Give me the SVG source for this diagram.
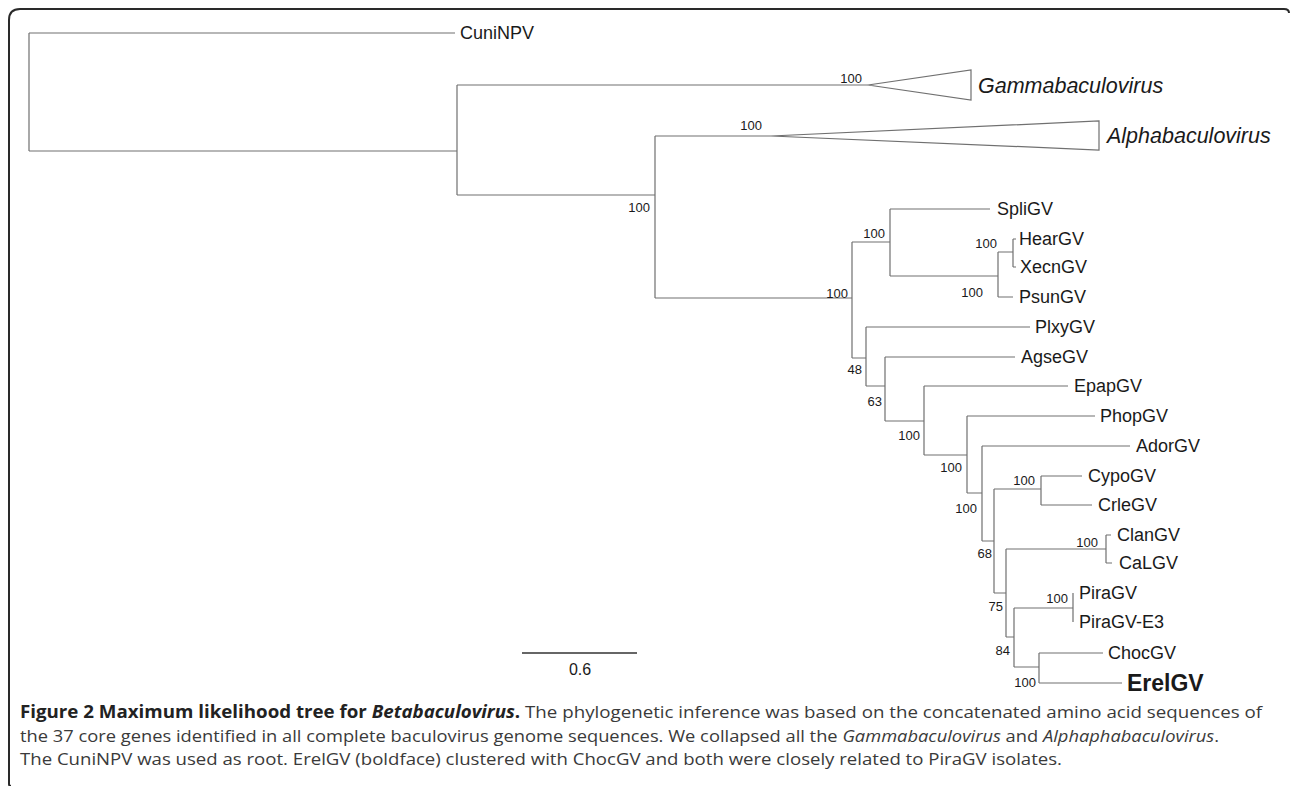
<svg xmlns="http://www.w3.org/2000/svg" width="1290" height="786" viewBox="0 0 1290 786">
<style>
.br{stroke:#707070;stroke-width:1.2;fill:none}
.tri{stroke:#707070;stroke-width:1.2;fill:#fff}
.tip{font-family:"Liberation Sans",Arial,sans-serif;font-size:18px;fill:#1a1a1a}
.clade{font-family:"Liberation Sans",Arial,sans-serif;font-size:21.5px;font-style:italic;fill:#1a1a1a}
.sup{font-family:"Liberation Sans",Arial,sans-serif;font-size:13px;fill:#1a1a1a}
.cap{font-family:"Open Sans","Liberation Sans",sans-serif;font-size:17px;fill:#3a3a3a}
</style>
<rect width="1290" height="786" fill="#fff"/>
<path d="M9 784 Q9 786 11 786 M9 784 V20 Q9 9 20 9 H1284 Q1289 9 1289 13" fill="none" stroke="#2a2a2a" stroke-width="2"/>
<g id="connectors">
<path class="br" d="M29 33 V151 M29 33 H455 M29 151 H457
M457 85 V195 M457 85 H868 M457 195 H655
M655 136 V298 M655 136 H771 M655 298 H852
M852 242 V358 M852 242 H890 M852 358 H866
M890 209 V276 M890 209 H990 M890 276 H998
M998 252 V297 M998 252 H1013 M998 297 H1013
M1013 239 V267 M1013 239 H1016 M1013 267 H1016
M866 327 V386 M866 327 H1030 M866 386 H885
M885 357 V421 M885 357 H1015 M885 421 H924
M924 386 V455 M924 386 H1068 M924 455 H967
M967 416 V493 M967 416 H1095 M967 493 H982
M982 446 V541 M982 446 H1130 M982 541 H994
M994 489 V593 M994 489 H1041 M994 593 H1006
M1041 476 V505 M1041 476 H1082 M1041 505 H1092
M1006 549 V637 M1006 549 H1106 M1006 637 H1014
M1106 535 V563 M1106 535 H1111 M1106 563 H1112
M1014 608 V667 M1014 608 H1073 M1014 667 H1039
M1073 593 V622
M1039 653 V683 M1039 653 H1103 M1039 683 H1122"/>
<polygon class="tri" points="868,85 971,70 971,100"/>
<polygon class="tri" points="771,136 1099,121 1099,150"/>
<path d="M522 653 H637" stroke="#333" stroke-width="1.5"/>
</g>
<g id="tips">
<text class="tip" x="460" y="39">CuniNPV</text>
<text class="clade" x="978" y="93">Gammabaculovirus</text>
<text class="clade" x="1107" y="143">Alphabaculovirus</text>
<text class="tip" x="997" y="215">SpliGV</text>
<text class="tip" x="1019" y="245">HearGV</text>
<text class="tip" x="1020" y="273">XecnGV</text>
<text class="tip" x="1019" y="303">PsunGV</text>
<text class="tip" x="1035" y="333">PlxyGV</text>
<text class="tip" x="1021" y="363">AgseGV</text>
<text class="tip" x="1074" y="392">EpapGV</text>
<text class="tip" x="1100" y="422">PhopGV</text>
<text class="tip" x="1136" y="452">AdorGV</text>
<text class="tip" x="1088" y="482">CypoGV</text>
<text class="tip" x="1098" y="511">CrleGV</text>
<text class="tip" x="1117" y="541">ClanGV</text>
<text class="tip" x="1119" y="569">CaLGV</text>
<text class="tip" x="1079" y="599">PiraGV</text>
<text class="tip" x="1079" y="628">PiraGV-E3</text>
<text class="tip" x="1108" y="659">ChocGV</text>
<text class="tip" x="1127" y="691" style="font-weight:bold;font-size:23px">ErelGV</text>
</g>
<g id="support">
<text class="sup" x="862" y="83" text-anchor="end">100</text>
<text class="sup" x="762" y="130" text-anchor="end">100</text>
<text class="sup" x="650" y="212" text-anchor="end">100</text>
<text class="sup" x="848" y="298" text-anchor="end">100</text>
<text class="sup" x="885" y="238" text-anchor="end">100</text>
<text class="sup" x="997" y="248" text-anchor="end">100</text>
<text class="sup" x="983" y="297" text-anchor="end">100</text>
<text class="sup" x="862" y="374" text-anchor="end">48</text>
<text class="sup" x="882" y="406" text-anchor="end">63</text>
<text class="sup" x="920" y="440" text-anchor="end">100</text>
<text class="sup" x="962" y="472" text-anchor="end">100</text>
<text class="sup" x="977" y="513" text-anchor="end">100</text>
<text class="sup" x="992" y="558" text-anchor="end">68</text>
<text class="sup" x="1035" y="485" text-anchor="end">100</text>
<text class="sup" x="1003" y="611" text-anchor="end">75</text>
<text class="sup" x="1098" y="547" text-anchor="end">100</text>
<text class="sup" x="1010" y="655" text-anchor="end">84</text>
<text class="sup" x="1068" y="603" text-anchor="end">100</text>
<text class="sup" x="1036" y="687" text-anchor="end">100</text>
</g>
<g id="scale">
<text x="580" y="675" text-anchor="middle" style="font-family:'Liberation Sans',Arial,sans-serif;font-size:16px;fill:#1a1a1a">0.6</text>
</g>
<g id="caption">
<text class="cap" x="20" y="718" textLength="1242" lengthAdjust="spacingAndGlyphs"><tspan style="font-weight:bold;fill:#222">Figure 2 Maximum likelihood tree for </tspan><tspan style="font-weight:bold;font-style:italic;fill:#222">Betabaculovirus</tspan><tspan style="font-weight:bold;fill:#222">.</tspan> The phylogenetic inference was based on the concatenated amino acid sequences of</text>
<text class="cap" x="20" y="742" textLength="1199" lengthAdjust="spacingAndGlyphs">the 37 core genes identified in all complete baculovirus genome sequences. We collapsed all the <tspan font-style="italic">Gammabaculovirus</tspan> and <tspan font-style="italic">Alphaphabaculovirus</tspan>.</text>
<text class="cap" x="20" y="765" textLength="1042" lengthAdjust="spacingAndGlyphs">The CuniNPV was used as root. ErelGV (boldface) clustered with ChocGV and both were closely related to PiraGV isolates.</text>
</g>
</svg>
